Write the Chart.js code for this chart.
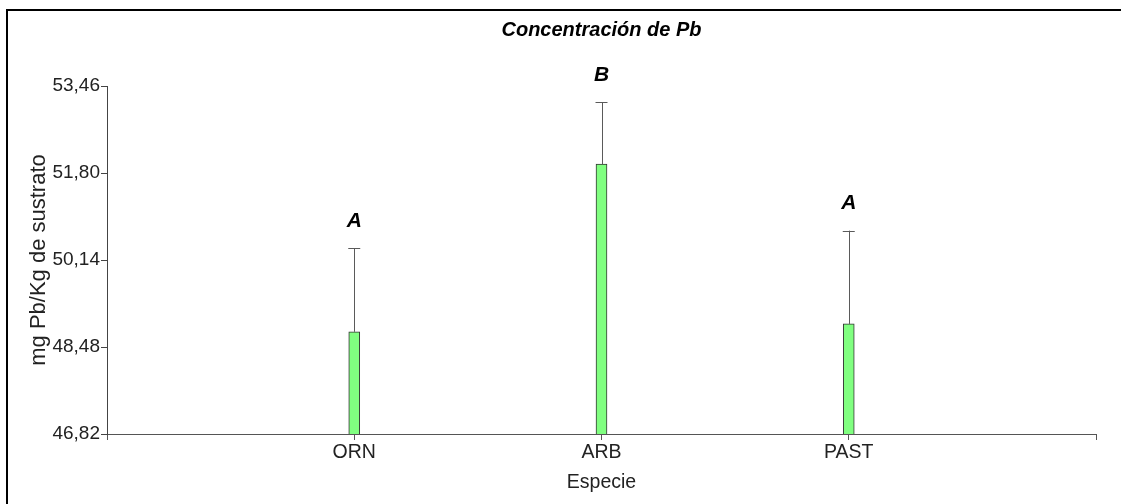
<!DOCTYPE html>
<html>
<head>
<meta charset="utf-8">
<script src="https://cdn.jsdelivr.net/npm/chart.js@4.4.1/dist/chart.umd.min.js"></script>
<style>
    html, body { margin: 0; padding: 0; background: #fff; }
    #frame {
        position: absolute; left: 6px; top: 9px; width: 1200px; height: 600px;
        border-top: 2px solid #000; border-left: 2px solid #000;
    }
    #wrap { position: absolute; left: 0; top: 0; width: 1121px; height: 504px; }
</style>
</head>
<body>
<div id="frame"></div>
<div id="wrap"><canvas id="chartPb"></canvas></div>
<script>
// especies (con huecos en los extremos, como en el eje original)
const categorias = ["", "ORN", "ARB", "PAST", ""];
const medias = [null, 48.77, 51.97, 48.92, null];
const errores = [null, 1.59, 1.18, 1.78, null];
const letras = [null, "A", "B", "A", null];
const ticksY = [46.82, 48.48, 50.14, 51.80, 53.46];

const fuente = "'Liberation Sans', Arial, sans-serif";

const errorBars = {
    id: "errorBars",
    afterDatasetsDraw(chart) {
        const ctx = chart.ctx;
        const x = chart.scales.x, y = chart.scales.y;
        ctx.save();
        medias.forEach(function (m, i) {
            if (m === null) return;
            const px = x.getPixelForValue(i);
            const y0 = y.getPixelForValue(m);
            const y1 = y.getPixelForValue(m + errores[i]);
            ctx.strokeStyle = "#5a5a5a";
            ctx.lineWidth = 1;
            ctx.beginPath();
            ctx.moveTo(Math.round(px) + 0.5, y0);
            ctx.lineTo(Math.round(px) + 0.5, y1);
            ctx.moveTo(px - 6, Math.round(y1) + 0.5);
            ctx.lineTo(px + 6, Math.round(y1) + 0.5);
            ctx.stroke();
            ctx.fillStyle = "#000";
            ctx.font = "italic bold 21px " + fuente;
            ctx.textAlign = "center";
            ctx.textBaseline = "middle";
            ctx.fillText(letras[i], px, y1 - 27);
        });
        ctx.restore();
    }
};

new Chart(document.getElementById("chartPb"), {
    type: "bar",
    data: {
        labels: categorias,
        datasets: [{
            data: medias,
            barThickness: 11,
            backgroundColor: "#80ff80",
            borderColor: "#333",
            borderWidth: 1
        }]
    },
    options: {
        responsive: true,
        maintainAspectRatio: false,
        animation: false,
        layout: { padding: { left: 0, right: 25, top: 0, bottom: 0 } },
        plugins: {
            legend: { display: false },
            tooltip: { enabled: false },
            title: {
                display: true,
                text: "Concentración de Pb",
                fullSize: false,
                color: "#000",
                font: { family: fuente, size: 20, style: "italic", weight: "bold" },
                padding: { top: 18, bottom: 44 }
            }
        },
        scales: {
            x: {
                offset: false,
                grid: { display: true, drawOnChartArea: false, offset: false, tickLength: 6, color: "#555" },
                border: { color: "#555" },
                ticks: { color: "#222", padding: 1, font: { family: fuente, size: 19.5 }, maxRotation: 0, autoSkip: false },
                title: { display: true, text: "Especie", color: "#222", font: { family: fuente, size: 19.5 }, padding: { top: 0, bottom: 10 } },
                afterFit(scale) { scale.height = 70; }
            },
            y: {
                min: 46.82,
                max: 53.46,
                afterBuildTicks(scale) { scale.ticks = ticksY.map(v => ({ value: v })); },
                grid: { display: true, drawOnChartArea: false, tickLength: 6, color: "#444" },
                border: { color: "#444" },
                ticks: {
                    color: "#222", padding: 1, font: { family: fuente, size: 19 },
                    callback: v => v.toFixed(2).replace(".", ",")
                },
                title: { display: true, text: "mg Pb/Kg de sustrato", color: "#222", font: { family: fuente, size: 22 }, padding: { top: 26, bottom: 0 } },
                afterFit(scale) { scale.width = 107; }
            }
        }
    },
    plugins: [errorBars]
});
</script>
</body>
</html>
